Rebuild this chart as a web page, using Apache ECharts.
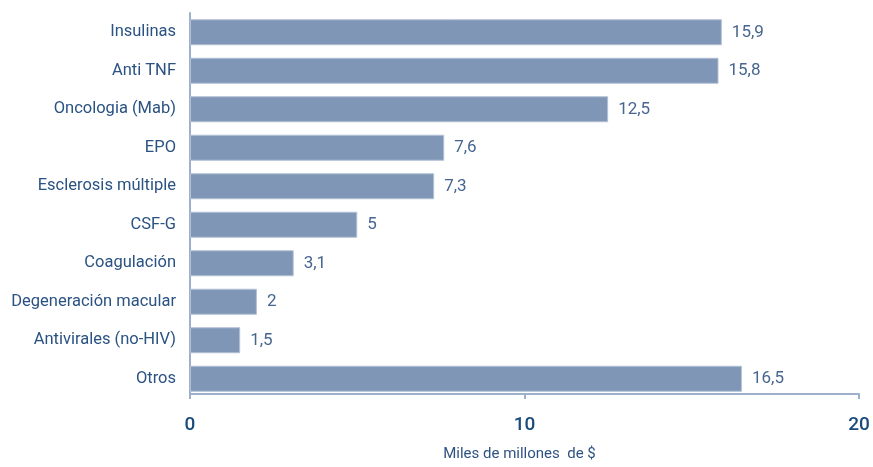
<!DOCTYPE html>
<html>
<head>
<meta charset="utf-8">
<script src="https://cdn.jsdelivr.net/npm/echarts@6/dist/echarts.min.js"></script>
<style>html,body{margin:0;padding:0;background:#fff}#c{width:873px;height:467px}</style>
</head>
<body>
<div id="c"></div>
<script>
const categories = ["Insulinas","Anti TNF","Oncologia (Mab)","EPO","Esclerosis múltiple","CSF-G","Coagulación","Degeneración macular","Antivirales (no-HIV)","Otros"];
const values = [15.9,15.8,12.5,7.6,7.3,5,3.1,2,1.5,16.5];
const xTicks = [0,10,20];
const axisName = "Miles de millones  de $";

const FONT = 'Roboto, Liberation Sans, Arial, sans-serif';
const chart = echarts.init(document.getElementById('c'));
chart.setOption({
  animation:false,
  backgroundColor:'#ffffff',
  grid:{left:190,right:14,top:13,height:388},
  xAxis:{
    type:'value',min:xTicks[0],max:xTicks[xTicks.length-1],interval:10,
    offset:-4,
    axisLine:{show:true,lineStyle:{color:'#9DB0CC',width:2}},
    axisTick:{show:true,length:5,lineStyle:{color:'#9DB0CC',width:2}},
    splitLine:{show:false},
    axisLabel:{margin:22,color:'#184A7C',fontSize:19,fontWeight:500,fontFamily:FONT},
    name:axisName,nameLocation:'middle',nameGap:53,
    nameTextStyle:{color:'#2F5382',fontSize:15,fontFamily:FONT,padding:[0,10,0,0]}
  },
  yAxis:{
    type:'category',data:categories,inverse:true,
    axisLine:{show:true,lineStyle:{color:'#9DB0CC',width:2}},
    axisTick:{show:false},
    axisLabel:{margin:14,color:'#2A5282',fontSize:16.5,fontFamily:FONT}
  },
  series:[{
    type:'bar',data:values,barWidth:26,
    itemStyle:{color:'#7F96B6',borderColor:'#B3C1D6',borderWidth:1},
    label:{show:true,position:'right',distance:10,color:'#46658F',fontSize:17,
      fontFamily:FONT,
      formatter:p=>String(p.value).replace('.',',')}
  }]
});
</script>
</body>
</html>
